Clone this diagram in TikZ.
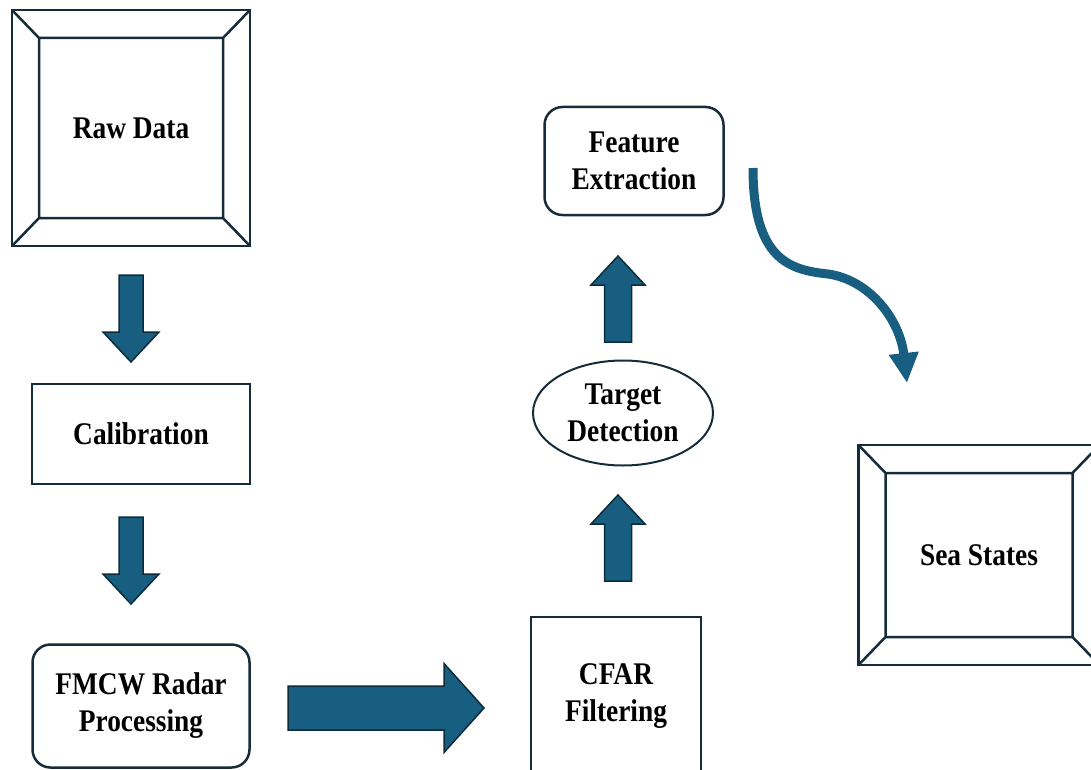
\documentclass[tikz,border=0pt]{standalone}
\usepackage{fontspec}
\setmainfont{Liberation Serif}[FakeStretch=0.87]
\usetikzlibrary{arrows.meta, positioning, shapes.geometric}
\definecolor{flowblue}{RGB}{23,94,128}
\definecolor{flowedge}{RGB}{12,44,60}
\definecolor{boxedge}{RGB}{22,44,56}

\tikzset{
    pics/blockarr/.style args={#1/#2/#3/#4}{code={
        \draw[flowedge, line width=1.5pt, fill=flowblue, line join=miter]
            (0,-#2) -- (#1-#4,-#2) -- (#1-#4,-#3) -- (#1,0)
            -- (#1-#4,#3) -- (#1-#4,#2) -- (0,#2) -- cycle;
    }}
}

\begin{document}
\begin{tikzpicture}[
    x=1pt, y=-1pt,
    label/.style={
        font=\fontsize{31.5}{37}\selectfont\bfseries,
        align=center, text=black
    },
    plainbox/.style={
        label, rectangle, draw=boxedge, line width=2.5pt
    },
    roundbox/.style={
        plainbox, rounded corners=18pt
    },
    bevelbox/.style={
        plainbox,
        path picture={
            \draw[boxedge, line width=2.5pt]
                (path picture bounding box.north west)
                    -- ++(27,28) coordinate (bnw)
                (path picture bounding box.north east)
                    -- ++(-27,28) coordinate (bne)
                (path picture bounding box.south east)
                    -- ++(-27,-28) coordinate (bse)
                (path picture bounding box.south west)
                    -- ++(27,-28) coordinate (bsw)
                (bnw) -- (bne) -- (bse) -- (bsw) -- cycle;
        }
    },
    curvearr/.style={
        -{Triangle[length=30pt, width=28pt]},
        line width=9pt, flowblue
    }
]
\useasboundingbox (0,0) rectangle (1091,770);

% boxes
\node[bevelbox, minimum width=238, minimum height=236]
    (raw) at (131,128) {Raw Data};
\node[plainbox, minimum width=218, minimum height=100]
    (calib) at (141,434) {Calibration};
\node[roundbox, minimum width=217, minimum height=123]
    (fmcw) at (141,706) {FMCW Radar\\Processing};
\node[plainbox, minimum width=170, minimum height=158]
    (cfar) at (616,696) {CFAR\\Filtering};
\node[label, ellipse, draw=boxedge, line width=2pt,
    minimum width=180, minimum height=105, inner sep=0pt]
    (target) at (623,413) {Target\\Detection};
\node[roundbox, minimum width=179, minimum height=108]
    (feat) at (634,161) {Feature\\Extraction};
\node[bevelbox, minimum width=241, minimum height=220]
    (sea) at (979,555) {Sea States};

% block arrows
\pic[rotate=-90] (calibIn) at (131,275) {blockarr=87/12/28/30};
\pic[rotate=-90] (fmcwIn) at (131,517) {blockarr=87/12/28/30};
\pic (cfarIn) at (288,708) {blockarr=196/22/44.5/40};
\pic[rotate=90] (targetIn) at (618,581) {blockarr=86/13.5/27/29};
\pic[rotate=90] (featIn) at (618,342) {blockarr=86/13.5/27/29};

% curved arrow to sea states
\coordinate (curveStart) at (753,168);
\coordinate (curveEnd) at (907,383);
\draw[curvearr] (curveStart)
    .. controls (753,260) and (790,270) .. (828,274)
    .. controls (870,280) and (900,320) .. (curveEnd);
\end{tikzpicture}
\end{document}
